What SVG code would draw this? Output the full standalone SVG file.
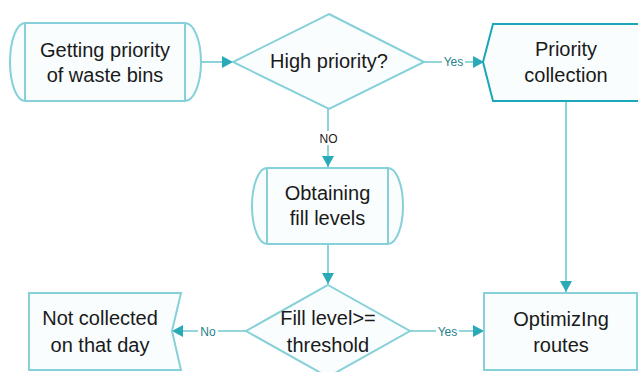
<svg xmlns="http://www.w3.org/2000/svg" width="638" height="372" viewBox="0 0 638 372">
<style>
.n{fill:#f9fdfe;stroke:#86d0d9;stroke-width:2}
.d{fill:#f9fdfe;stroke:#1ba6b9;stroke-width:2}
.t{font-family:"Liberation Sans",Arial,sans-serif;font-size:20px;fill:#1a1a1a;text-anchor:middle}
.c{stroke:#72c8d1;stroke-width:1.6;fill:none}
.l{font-family:"Liberation Sans",Arial,sans-serif;font-size:12px;fill:#1f7f8b;text-anchor:middle}
.lb{fill:#ffffff}
</style>
<defs>
<marker id="a" markerWidth="12" markerHeight="12" refX="11" refY="6" orient="auto" markerUnits="userSpaceOnUse">
<path d="M0,0 L11,6 L0,12 Z" fill="#2aa9b6"/>
</marker>
</defs>
<rect width="638" height="372" fill="#ffffff"/>
<g id="connectors">
<line class="c" x1="201" y1="62" x2="233" y2="62" marker-end="url(#a)"/>
<line class="c" x1="424" y1="62" x2="484" y2="62" marker-end="url(#a)"/>
<line class="c" x1="328" y1="109" x2="328" y2="167" marker-end="url(#a)"/>
<line class="c" x1="328" y1="245" x2="328" y2="284" marker-end="url(#a)"/>
<line class="c" x1="566" y1="101" x2="566" y2="292" marker-end="url(#a)"/>
<line class="c" x1="246" y1="331" x2="172" y2="331" marker-end="url(#a)"/>
<line class="c" x1="410" y1="331" x2="484" y2="331" marker-end="url(#a)"/>
<rect class="lb" x="442" y="55" width="23" height="13"/>
<text class="l" x="453.5" y="66">Yes</text>
<rect class="lb" x="317" y="131" width="23" height="14"/>
<text class="l" x="328.5" y="143" style="fill:#1a1a1a">NO</text>
<rect class="lb" x="198" y="324" width="20" height="13"/>
<text class="l" x="208" y="335.5">No</text>
<rect class="lb" x="436" y="324" width="23" height="13"/>
<text class="l" x="447.5" y="335.5">Yes</text>
</g>
<g id="getting-priority">
<path class="n" d="M25,23 L185,23 A16,39 0 0 1 185,101 L25,101 A15,39 0 0 1 25,23 Z"/>
<line class="n" x1="25" y1="23" x2="25" y2="101"/>
<line class="n" x1="185" y1="23" x2="185" y2="101"/>
<text class="t" x="105" y="57">Getting priority</text>
<text class="t" x="105" y="82">of waste bins</text>
</g>
<g id="high-priority">
<polygon class="n" points="329,14 424,62 329,109 233,62"/>
<text class="t" x="329" y="68">High priority?</text>
</g>
<g id="priority-collection">
<polygon class="d" points="493,24 640,24 640,101 493,101 483,62"/>
<text class="t" x="566" y="56">Priority</text>
<text class="t" x="566" y="82">collection</text>
</g>
<g id="obtaining">
<path class="n" d="M267,168 L388,168 A15,38 0 0 1 388,244 L267,244 A15,38 0 0 1 267,168 Z"/>
<line class="n" x1="267" y1="168" x2="267" y2="244"/>
<line class="n" x1="388" y1="168" x2="388" y2="244"/>
<text class="t" x="327.5" y="200">Obtaining</text>
<text class="t" x="327.5" y="225">fill levels</text>
</g>
<g id="fill-threshold">
<polygon class="n" points="328,285 410,331 328,377 246,331"/>
<text class="t" x="328" y="325">Fill level&gt;=</text>
<text class="t" x="328" y="352">threshold</text>
</g>
<g id="not-collected">
<polygon class="n" points="29,293 181,293 172,331 181,370 29,370"/>
<text class="t" x="100" y="325">Not collected</text>
<text class="t" x="100" y="352">on that day</text>
</g>
<g id="optimizing">
<rect class="n" x="484" y="293" width="153" height="77"/>
<text class="t" x="561" y="326">OptimizIng</text>
<text class="t" x="561" y="352">routes</text>
</g>
</svg>
